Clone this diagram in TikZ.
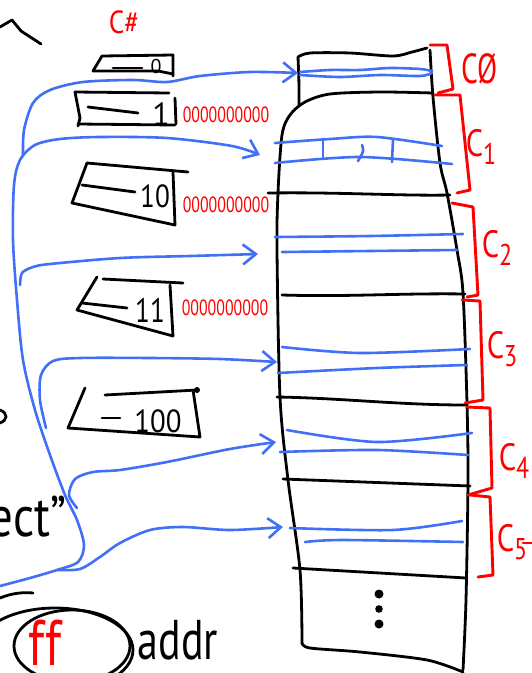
\documentclass[tikz,border=0pt]{standalone}
\usepackage{fontspec}
\setmainfont{PT Sans}
\usepackage{graphicx}
\usetikzlibrary{arrows.meta}
\definecolor{penblue}{RGB}{64,112,245}
\definecolor{penred}{RGB}{255,0,0}
\newcommand\fsz[1]{\fontsize{#1}{#1}\selectfont}
\newcommand\cachelab[1]{\scalebox{0.8}[1]{\fsz{38}C\raisebox{-8pt}{\fsz{30}#1}}}
\newcommand\bitstr{\scalebox{0.72}[1]{\fsz{22}0000000000}}
\begin{document}
\begin{tikzpicture}[x=1pt,y=-1pt,line cap=round,line join=round,
  ink/.style={draw=black,line width=2.8pt},
  bink/.style={draw=penblue,line width=2.6pt},
  rink/.style={draw=penred,line width=2.9pt},
  arr/.style={bink,-{Straight Barb[length=13pt,width=20pt]}},
  lbl/.style={inner sep=0pt,outer sep=0pt},
  bits/.style={lbl,text=penred},
  redlbl/.style={lbl,text=penred}]
\useasboundingbox (0,0) rectangle (532,673);

% ---------- top-left stroke and C# ----------
\draw[ink] (0,27) -- (12,20) -- (21,31) -- (41,44);
\node[redlbl] (csharp) at (124,22) {\scalebox{0.85}[1]{\fsz{32}C\#}};

% ---------- tag boxes on the left ----------
% box 0
\draw[ink] (93,71) -- (102,56) -- (173,55) -- (173,76);
\draw[ink] (93,71) -- (158,71) -- (173,74);
\draw[ink] (113,68) -- (142,68);
\node[lbl] (tag0) at (156,66) {\fsz{20}0};
% box 1
\draw[ink] (75,92) -- (169,93);
\draw[ink] (75,92) -- (80,118) -- (78,126);
\draw[ink] (78,124) -- (175,125);
\draw[ink] (175,98) -- (176,124);
\draw[ink] (88,107) -- (138,113);
\node[lbl] (tag1) at (161,114) {\fsz{32}1};
\node[bits] (bits1) at (226,115) {\bitstr};
% box 2
\draw[ink] (87,163) -- (188,172);
\draw[ink] (87,163) -- (72,203) -- (175,225) -- (173,172);
\draw[ink] (82,185) -- (135,192);
\node[lbl] (tag2) at (155,196) {\scalebox{0.85}[1]{\fsz{32}10}};
\node[bits] (bits2) at (226,205) {\bitstr};
% box 3
\draw[ink] (103,279) -- (183,283);
\draw[ink] (97,277) -- (77,310) -- (173,336) -- (170,285);
\draw[ink] (82,303) -- (127,308);
\node[lbl] (tag3) at (150,310) {\scalebox{0.8}[1]{\fsz{34}11}};
\node[bits] (bits3) at (225,308) {\bitstr};
% box 4
\draw[ink] (105,395) -- (197,390);
\fill (197,390) circle (3);
\draw[ink] (85,388) -- (68,428) -- (200,437) -- (193,390);
\draw[ink] (102,418) -- (120,418);
\node[lbl] (tag4) at (158,421) {\scalebox{0.9}[1]{\fsz{32}100}};

% ---------- left-side fragments ----------
\draw[ink] (0,410) .. controls (8,413) and (8,420) .. (0,423);
\node[lbl,anchor=base east] (ect) at (66,536) {\scalebox{0.9}[1.1]{\fsz{52}ect”}};
\draw[ink] (55,650) ellipse [x radius=78, y radius=42];
\draw[ink] (72,646) ellipse [x radius=58, y radius=36];
\draw[ink] (0,598) .. controls (12,593) and (24,592) .. (33,593);
\node[redlbl] (ff) at (45,643) {\scalebox{0.9}[1.15]{\fsz{56}ff}};
\node[lbl] (addr) at (178,640) {\scalebox{0.75}[1]{\fsz{56}addr}};

% ---------- memory column ----------
\draw[ink] (298,57) .. controls (299,80) .. (299,106);
\draw[ink] plot[smooth] coordinates {(298,57) (310,53) (350,53) (393,56) (412,52) (427,48)};
\draw[ink] plot[smooth] coordinates {(430,50) (433,97) (440,163) (447,193) (457,250) (463,293) (467,403) (468,480) (466,600) (463,670)};
\draw[ink] plot[smooth] coordinates {(433,93) (380,92) (330,94) (305,102) (290,115) (282,135) (278,193) (277,250) (280,397) (288,480) (300,570) (302,643)};
\draw[ink] plot[smooth] coordinates {(302,643) (310,648) (360,652) (427,660) (463,672)};
% row separators
\draw[ink] (268,193) .. controls (340,192) and (400,196) .. (450,195);
\draw[ink] (282,295) .. controls (350,297) and (400,293) .. (465,294);
\draw[ink] (277,397) .. controls (340,398) and (400,405) .. (465,405);
\draw[ink] (283,479) -- (470,486);
\draw[ink] (293,568) -- (466,578);
% dots
\fill (379,594) circle (4.5);
\fill (379,609) circle (3.8);
\fill (379,624) circle (4.5);

% ---------- blue cache lines in the column ----------
\draw[bink] plot[smooth] coordinates {(300,72) (330,70) (360,70) (390,68) (420,69) (432,71)};
\draw[bink] plot[smooth] coordinates {(300,75) (340,77) (380,75) (420,76) (432,73)};
\draw[bink] plot[smooth] coordinates {(275,143) (330,139) (377,137) (442,146)};
\draw[bink] plot[smooth] coordinates {(275,163) (360,157) (452,164)};
\draw[bink] (323,139) -- (323,157);
\draw[bink] (362,145) .. controls (364,151) .. (358,161);
\draw[bink] (393,140) -- (392,162);
\draw[bink] plot[smooth] coordinates {(275,237) (370,236) (463,234)};
\draw[bink] plot[smooth] coordinates {(282,252) (370,251) (457,250)};
\draw[bink] plot[smooth] coordinates {(282,347) (360,353) (470,349)};
\draw[bink] plot[smooth] coordinates {(278,373) (377,368) (467,365)};
\draw[bink] plot[smooth] coordinates {(287,430) (377,442) (472,433)};
\draw[bink] plot[smooth] coordinates {(280,452) (377,450) (468,455)};
\draw[bink] plot[smooth] coordinates {(290,528) (393,530) (462,521)};
\draw[bink] plot[smooth] coordinates {(305,542) (343,540) (463,542)};

% ---------- red brackets and cache labels ----------
\draw[rink] (430,45) -- (447,45) -- (453,89) -- (438,93);
\draw[rink] (435,95) -- (460,95) -- (470,190) -- (457,193);
\draw[rink] (452,203) -- (473,207) -- (478,295) -- (467,297);
\draw[rink] (462,300) -- (480,301) -- (483,400) -- (465,403);
\draw[rink] (467,407) -- (490,408) -- (492,488) -- (468,495);
\draw[rink] (470,495) -- (490,497) -- (493,575) -- (478,577);
\node[redlbl] (c0) at (480,69) {\scalebox{0.7}[1]{\fsz{42}C\O}};
\node[redlbl] (c1) at (481,147) {\cachelab{1}};
\node[redlbl] (c2) at (497,248) {\cachelab{2}};
\node[redlbl] (c3) at (502,349) {\cachelab{3}};
\node[redlbl] (c4) at (514,461) {\cachelab{4}};
\node[redlbl] (c5) at (512,542) {\cachelab{5}};
\draw[rink] (523,543) -- (532,543);

% ---------- blue pointer arrows ----------
\coordinate (r0) at (298,73);
\coordinate (r1) at (260,155);
\coordinate (r2) at (258,254);
\coordinate (r3) at (277,362);
\coordinate (r4) at (276,442);
\coordinate (r5) at (283,527);
\coordinate (src) at (0,586);
\coordinate (j1) at (23,156);
\coordinate (j2) at (20,285);
\coordinate (j3) at (46,428);
\coordinate (j4) at (77,508);
\coordinate (j5) at (57,570);
\draw[arr] plot[smooth] coordinates {(src) (30,578) (j5) (78,562) (84,545) (77,520) (65,495) (50,455) (35,410) (23,360) (17,300) (13,240) (14,185) (20,160) (35,145) (60,139) (100,137) (167,138) (232,146) (r1)};
\draw[arr] plot[smooth] coordinates {(j1) (24,130) (33,103) (50,90) (83,82) (133,80) (167,82) (200,76) (250,72) (r0)};
\draw[arr] plot[smooth] coordinates {(j2) (22,273) (33,267) (50,264) (120,258) (190,256) (r2)};
\draw[arr] plot[smooth] coordinates {(j3) (40,400) (41,375) (53,361) (80,358) (150,358) (220,359) (r3)};
\draw[arr] plot[smooth] coordinates {(j4) (69,495) (75,479) (93,472) (120,470) (167,462) (230,449) (r4)};
\draw[arr] plot[smooth] coordinates {(j5) (80,569) (100,557) (120,543) (150,530) (183,527) (230,530) (r5)};
\end{tikzpicture}
\end{document}
